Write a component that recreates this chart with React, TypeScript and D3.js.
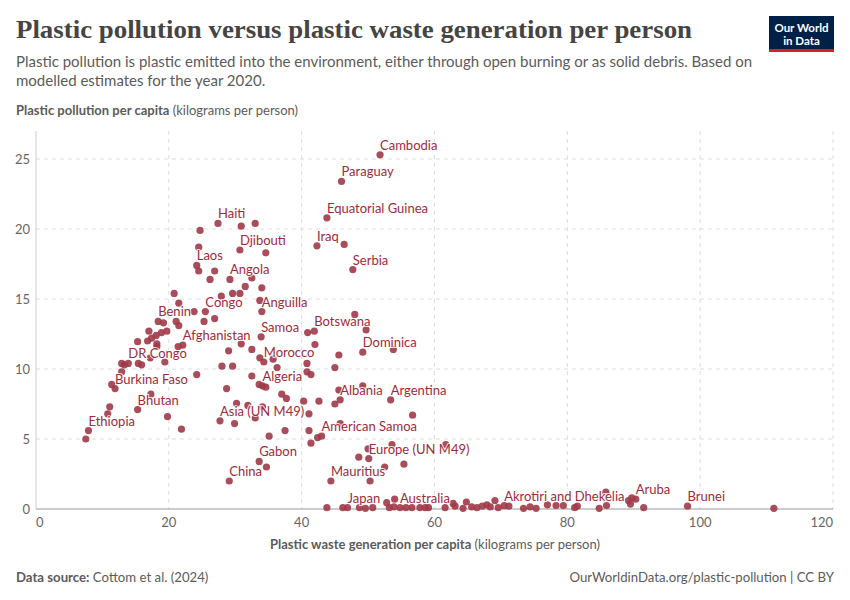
import * as d3 from "d3";

// Labelled entities: [name, plastic waste per capita, plastic pollution per capita]
const labelled: [string, number, number][] = [
  ["Cambodia", 51.8, 25.3],
  ["Paraguay", 46.0, 23.4],
  ["Equatorial Guinea", 43.8, 20.8],
  ["Haiti", 27.4, 20.4],
  ["Iraq", 42.3, 18.8],
  ["Djibouti", 30.7, 18.5],
  ["Serbia", 47.7, 17.1],
  ["Laos", 24.2, 17.4],
  ["Angola", 29.2, 16.4],
  ["Congo", 25.5, 14.1],
  ["Anguilla", 34.0, 14.1],
  ["Benin", 18.4, 13.4],
  ["Botswana", 41.9, 12.7],
  ["Afghanistan", 22.1, 11.7],
  ["Samoa", 33.9, 12.3],
  ["Dominica", 49.2, 11.2],
  ["DR Congo", 13.9, 10.4],
  ["Morocco", 34.3, 10.5],
  ["Burkina Faso", 11.9, 8.6],
  ["Algeria", 34.1, 8.8],
  ["Albania", 45.8, 7.8],
  ["Argentina", 53.4, 7.8],
  ["Bhutan", 15.3, 7.1],
  ["Asia (UN M49)", 27.7, 6.3],
  ["Ethiopia", 7.9, 5.6],
  ["American Samoa", 43.0, 5.2],
  ["Europe (UN M49)", 50.1, 3.6],
  ["Gabon", 33.6, 3.4],
  ["Mauritius", 44.4, 2.0],
  ["China", 29.1, 2.0],
  ["Japan", 46.9, 0.1],
  ["Australia", 54.8, 0.1],
  ["Akrotiri and Dhekelia", 70.5, 0.24],
  ["Aruba", 90.3, 0.7],
  ["Brunei", 98.1, 0.2],
];

// Unlabelled entities: [waste, pollution]
const others: [number, number][] = [
  [30.9, 20.2], [33.0, 20.4], [24.7, 19.9], [24.5, 18.7], [46.4, 18.9], [34.6, 18.3],
  [24.5, 17.0], [26.9, 17.0], [26.2, 16.4], [32.5, 16.5], [34.0, 15.8], [31.5, 15.9],
  [20.8, 15.4], [21.5, 14.7], [27.9, 15.2], [29.6, 15.4], [30.7, 15.4], [33.7, 14.9],
  [23.8, 14.1], [26.9, 13.6], [25.3, 13.4], [19.2, 13.3], [21.1, 13.4], [21.5, 13.1],
  [48.0, 13.9], [49.7, 12.8], [40.9, 12.6], [42.0, 11.75],
  [17.0, 12.7], [18.9, 12.6], [19.7, 12.7], [18.1, 12.4], [17.4, 12.2], [15.3, 11.95],
  [16.8, 12.0], [18.2, 11.8], [18.2, 11.6], [21.4, 11.6],
  [30.9, 11.8], [29.0, 11.3], [32.5, 11.4], [45.6, 11.0], [53.8, 11.4], [33.7, 10.8], [35.7, 10.7],
  [17.2, 10.8], [12.9, 10.4], [13.3, 10.3], [15.4, 10.4], [15.9, 10.3], [19.4, 10.5],
  [28.0, 10.2], [29.6, 10.2], [36.3, 10.1], [40.8, 10.4], [45.0, 10.1], [40.8, 9.8], [41.4, 9.6],
  [12.9, 9.8], [24.2, 9.6], [32.5, 9.5], [11.4, 8.9], [33.6, 8.9], [34.6, 8.7], [28.7, 8.6],
  [45.6, 8.5], [49.2, 8.8],
  [17.3, 8.2], [37.0, 8.2], [37.7, 7.9], [40.3, 7.7], [42.6, 7.7], [45.0, 7.5], [30.2, 7.55],
  [31.9, 7.4], [34.1, 7.3],
  [11.1, 7.3], [41.1, 6.8], [56.7, 6.7], [10.8, 6.8], [19.8, 6.6], [29.9, 6.1], [33.0, 6.5], [45.8, 6.1],
  [21.9, 5.7], [37.5, 5.6], [41.1, 5.6], [35.1, 5.2], [42.4, 5.1], [7.5, 5.0], [41.4, 4.7],
  [53.6, 4.6], [61.7, 4.6],
  [50.0, 4.3], [48.6, 3.7], [52.5, 3.0], [55.4, 3.2], [34.7, 3.0], [50.3, 2.0],
  [52.8, 0.45], [54.0, 0.7], [64.8, 0.5], [69.1, 0.6], [85.8, 1.2], [89.7, 0.8], [89.2, 0.6],
  [89.5, 0.35], [62.8, 0.4],
  [43.8, 0.1], [46.2, 0.1], [48.7, 0.1], [49.6, 0.05], [50.7, 0.1], [53.2, 0.1], [53.9, 0.15],
  [55.7, 0.1], [56.6, 0.1], [57.8, 0.1], [58.6, 0.1], [59.1, 0.1], [61.6, 0.1], [63.1, 0.2],
  [64.3, 0.05], [65.6, 0.15], [66.4, 0.1], [67.2, 0.2], [67.9, 0.3], [68.4, 0.15], [69.6, 0.1],
  [71.2, 0.2], [73.4, 0.05], [74.4, 0.15], [75.3, 0.05], [77.0, 0.3], [78.3, 0.25], [79.4, 0.25],
  [81.1, 0.1], [81.5, 0.2], [84.8, 0.05], [85.9, 0.25], [91.5, 0.1], [111.1, 0.05],
];

const xTicks = [0, 20, 40, 60, 80, 100, 120];
const yTicks = [0, 5, 10, 15, 20, 25];

const FONT = "Lato, 'Noto Sans', sans-serif";
const DOT = "#a03a49";
const LABEL = "#9e2b3b";
const GREY = "#5b5b5b";

export default function App() {
  const x = d3.scaleLinear().domain([0, 120]).range([36, 833]);
  const y = d3.scaleLinear().domain([0, 25]).range([509, 159]);
  const top = 131;

  return (
    <svg
      width={850}
      height={600}
      style={{ position: "absolute", left: 0, top: 0, background: "#fff" }}
      fontFamily={FONT}
    >
      {/* Header */}
      <text
        x={16}
        y={38}
        fontFamily="'Liberation Serif', 'DejaVu Serif', serif"
        fontWeight="bold"
        fontSize={26}
        fill="#444"
        textLength={676}
        lengthAdjust="spacingAndGlyphs"
      >
        Plastic pollution versus plastic waste generation per person
      </text>
      <text x={16} y={67} fontSize={15} fill={GREY}>
        Plastic pollution is plastic emitted into the environment, either through open burning or as solid debris. Based on
      </text>
      <text x={16} y={86} fontSize={15} fill={GREY}>
        modelled estimates for the year 2020.
      </text>

      {/* Logo */}
      <g>
        <rect x={769} y={16} width={65} height={36} fill="#002147" />
        <rect x={769} y={49} width={65} height={3} fill="#ce261e" />
        <text x={801.5} y={32} textAnchor="middle" fontSize={11.5} fontWeight="bold" fill="#fff">
          Our World
        </text>
        <text x={801.5} y={45} textAnchor="middle" fontSize={11.5} fontWeight="bold" fill="#fff">
          in Data
        </text>
      </g>

      {/* Y axis title */}
      <text x={16} y={115} fontSize={13} fill={GREY}>
        <tspan fontWeight="bold">Plastic pollution per capita</tspan>
        <tspan> (kilograms per person)</tspan>
      </text>

      {/* Grid */}
      {yTicks.filter((t) => t > 0).map((t) => (
        <line
          key={"gy" + t}
          x1={x(0)}
          x2={x(120)}
          y1={y(t)}
          y2={y(t)}
          stroke="#ddd"
          strokeDasharray="4,4"
        />
      ))}
      {xTicks.filter((t) => t > 0).map((t) => (
        <line
          key={"gx" + t}
          x1={x(t)}
          x2={x(t)}
          y1={top}
          y2={y(0)}
          stroke="#ddd"
          strokeDasharray="4,4"
        />
      ))}
      <line x1={x(0)} x2={x(0)} y1={top} y2={y(0)} stroke="#ccc" />
      <line x1={x(0)} x2={x(120)} y1={y(0)} y2={y(0)} stroke="#999" />

      {/* Tick labels */}
      {yTicks.map((t) => (
        <text key={"ty" + t} x={30} y={y(t) + 5} textAnchor="end" fontSize={13} fill="#666">
          {t}
        </text>
      ))}
      {xTicks.map((t, i) => (
        <text
          key={"tx" + t}
          x={x(t)}
          y={527}
          textAnchor={i === 0 ? "start" : i === xTicks.length - 1 ? "end" : "middle"}
          fontSize={13}
          fill="#666"
        >
          {t}
        </text>
      ))}

      {/* X axis title */}
      <text x={435} y={549} textAnchor="middle" fontSize={13} fill={GREY}>
        <tspan fontWeight="bold">Plastic waste generation per capita</tspan>
        <tspan> (kilograms per person)</tspan>
      </text>

      {/* Points */}
      <g fill={DOT} fillOpacity={0.9}>
        {others.map((d, i) => (
          <circle key={"o" + i} cx={x(d[0])} cy={y(d[1])} r={3.6} />
        ))}
        {labelled.map((d) => (
          <circle key={"l" + d[0]} cx={x(d[1])} cy={y(d[2])} r={3.6} />
        ))}
      </g>

      {/* Labels */}
      <g fontSize={13} fill={LABEL}>
        {labelled.map((d) => (
          <text
            key={"t" + d[0]}
            x={x(d[1])}
            y={y(d[2]) - 5}
            stroke="#fff"
            strokeWidth={2}
            strokeOpacity={0.8}
            style={{ paintOrder: "stroke" }}
          >
            {d[0]}
          </text>
        ))}
      </g>

      {/* Footer */}
      <text x={16} y={582} fontSize={13.2} fill={GREY}>
        <tspan fontWeight="bold">Data source:</tspan>
        <tspan> Cottom et al. (2024)</tspan>
      </text>
      <text x={834} y={582} textAnchor="end" fontSize={13.2} fill={GREY}>
        OurWorldinData.org/plastic-pollution | CC BY
      </text>
    </svg>
  );
}
